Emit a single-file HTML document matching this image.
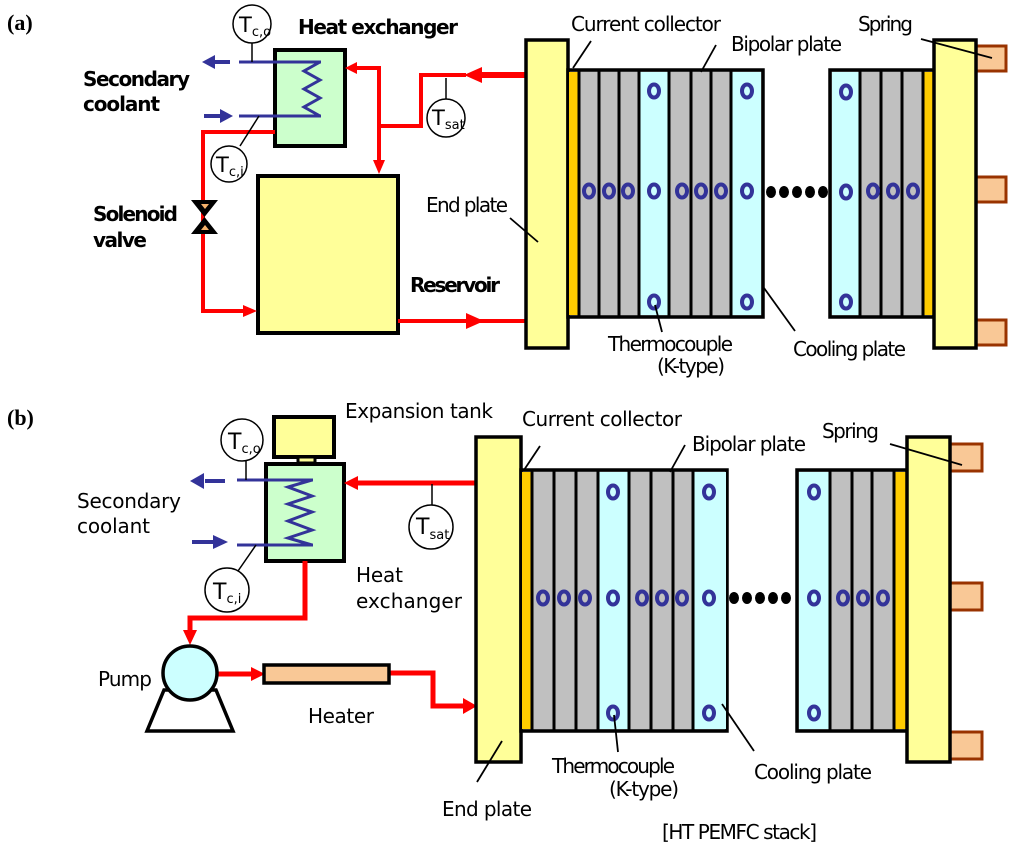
<!DOCTYPE html>
<html><head><meta charset="utf-8"><style>
html,body{margin:0;padding:0;background:#fff;}
svg{display:block;}
text{font-family:"DejaVu Sans","Liberation Sans",sans-serif;fill:#000;}
.b{font-weight:bold;font-size:20px;}
.r{font-size:20px;}
.s{font-family:"Liberation Serif",serif;font-weight:bold;font-size:22px;}
</style></head><body>
<svg width="1024" height="849" viewBox="0 0 1024 849" xmlns="http://www.w3.org/2000/svg">
<defs>
<g id="tc"><ellipse cx="0" cy="0" rx="5" ry="6.5" fill="none" stroke="#333399" stroke-width="4"/></g>
</defs>

<!-- ===== (a) ===== -->
<text x="7" y="30" class="s">(a)</text>
<rect x="275" y="50" width="70" height="96" fill="#ccffcc" stroke="#000" stroke-width="4"/>
<rect x="258" y="176" width="140" height="157" fill="#ffff99" stroke="#000" stroke-width="4"/>
<g stroke="#ff0000" fill="none">
<line x1="480" y1="75" x2="526" y2="75" stroke-width="6"/>
<polyline points="466,75 421,75 421,126 379,126" stroke-width="4"/>
<polyline points="379,126 379,68 354,68" stroke-width="4"/>
<line x1="379" y1="126" x2="379" y2="162" stroke-width="4"/>
<polyline points="275,132 203,132 203,311 244,311" stroke-width="4"/>
<line x1="398" y1="321" x2="526" y2="321" stroke-width="4"/>
</g>
<g fill="#ff0000">
<polygon points="464,75 482,67 482,83"/>
<polygon points="345,68 357,62 357,74"/>
<polygon points="379,174 373,160 385,160"/>
<polygon points="257,311 243,305 243,317"/>
<polygon points="484,321 466,313 466,329"/>
</g>
<polygon points="191,200 218,200 191,234 218,234" fill="#000"/>
<polygon points="201,204 209,204 205,209" fill="#f6b26b"/>
<polygon points="201,230 209,230 205,225" fill="#f6b26b"/>
<g stroke="#333399" stroke-width="3" fill="none">
<line x1="239" y1="62" x2="321" y2="62"/>
<line x1="239" y1="116" x2="321" y2="116"/>
<polyline points="320,62 304,71 320,80 304,89 320,98 304,107 320,116"/>
<line x1="214" y1="62" x2="230" y2="62" stroke-width="4"/>
<line x1="204" y1="116" x2="222" y2="116" stroke-width="4"/>
</g>
<polygon points="202,62 215,55 215,69" fill="#333399"/>
<polygon points="233,116 220,109 220,123" fill="#333399"/>
<g stroke="#000" stroke-width="1.5" fill="#fff">
<line x1="252" y1="43" x2="252" y2="62"/>
<circle cx="252" cy="24" r="19"/>
<line x1="259" y1="116" x2="240" y2="146"/>
<circle cx="229" cy="164" r="18"/>
<line x1="446" y1="78" x2="446" y2="99"/>
<circle cx="446" cy="118" r="19"/>
</g>
<text x="239" y="32" font-size="21">T<tspan font-size="13" dy="4">c,o</tspan></text>
<text x="216" y="172" font-size="21">T<tspan font-size="13" dy="4">c,i</tspan></text>
<text x="432" y="125" font-size="21">T<tspan font-size="13" dy="4">sat</tspan></text>
<text x="298" y="34" class="b" textLength="160">Heat exchanger</text>
<text x="83" y="86" class="b" textLength="107">Secondary</text>
<text x="83" y="111" class="b" textLength="77">coolant</text>
<text x="93" y="221" class="b" textLength="85">Solenoid</text>
<text x="93" y="247" class="b" textLength="54">valve</text>
<text x="410" y="292" class="b" textLength="90">Reservoir</text>
<text x="426" y="212" class="r" textLength="82">End plate</text>
<text x="571" y="31" class="r" textLength="150">Current collector</text>
<text x="731" y="51" class="r" textLength="111">Bipolar plate</text>
<text x="858" y="31" class="r" textLength="55">Spring</text>
<text x="608" y="351" class="r" textLength="125">Thermocouple</text>
<text x="657" y="373" class="r" textLength="68">(K-type)</text>
<text x="793" y="356" class="r" textLength="113">Cooling plate</text>
<rect x="526" y="40" width="42" height="308" fill="#ffff99" stroke="#000" stroke-width="3.5"/>
<rect x="568" y="70" width="195" height="247" fill="#c0c0c0" stroke="#000" stroke-width="3.5"/>
<rect x="569" y="72" width="9" height="243" fill="#ffcc00"/>
<rect x="639" y="72" width="30" height="243" fill="#ccffff"/>
<rect x="731" y="72" width="30" height="243" fill="#ccffff"/>
<g stroke="#000" stroke-width="3">
<line x1="579" y1="70" x2="579" y2="317"/><line x1="599" y1="70" x2="599" y2="317"/>
<line x1="619" y1="70" x2="619" y2="317"/><line x1="639" y1="70" x2="639" y2="317"/>
<line x1="669" y1="70" x2="669" y2="317"/><line x1="691" y1="70" x2="691" y2="317"/>
<line x1="711" y1="70" x2="711" y2="317"/><line x1="731" y1="70" x2="731" y2="317"/>
</g>
<rect x="830" y="70" width="104" height="247" fill="#c0c0c0" stroke="#000" stroke-width="3.5"/>
<rect x="832" y="72" width="28" height="243" fill="#ccffff"/>
<rect x="923" y="72" width="10" height="243" fill="#ffcc00"/>
<g stroke="#000" stroke-width="3">
<line x1="860" y1="70" x2="860" y2="317"/><line x1="881" y1="70" x2="881" y2="317"/>
<line x1="902" y1="70" x2="902" y2="317"/><line x1="923" y1="70" x2="923" y2="317"/>
</g>
<g fill="#f9c896" stroke="#993300" stroke-width="3">
<rect x="976" y="46" width="30" height="25"/><rect x="976" y="177" width="30" height="25"/><rect x="976" y="320" width="30" height="25"/>
</g>
<rect x="934" y="40" width="42" height="308" fill="#ffff99" stroke="#000" stroke-width="3.5"/>
<g>
<use href="#tc" x="654" y="91"/><use href="#tc" x="747" y="91"/><use href="#tc" x="846" y="92"/>
<use href="#tc" x="654" y="302"/><use href="#tc" x="747" y="302"/><use href="#tc" x="846" y="302"/>
<use href="#tc" x="589" y="191"/><use href="#tc" x="609" y="191"/><use href="#tc" x="628" y="191"/>
<use href="#tc" x="654" y="191"/><use href="#tc" x="682" y="191"/><use href="#tc" x="701" y="191"/>
<use href="#tc" x="721" y="191"/><use href="#tc" x="747" y="191"/><use href="#tc" x="846" y="192"/>
<use href="#tc" x="873" y="191"/><use href="#tc" x="893" y="191"/><use href="#tc" x="913" y="191"/>
</g>
<g fill="#000">
<ellipse cx="771" cy="192" rx="5" ry="6"/><ellipse cx="784" cy="192" rx="5" ry="6"/><ellipse cx="797" cy="192" rx="5" ry="6"/>
<ellipse cx="810" cy="192" rx="5" ry="6"/><ellipse cx="823" cy="192" rx="5" ry="6"/>
</g>
<g stroke="#000" stroke-width="1.8">
<line x1="591" y1="41" x2="573" y2="68"/>
<line x1="716" y1="45" x2="701" y2="72"/>
<line x1="921" y1="39" x2="992" y2="58"/>
<line x1="510" y1="218" x2="538" y2="242"/>
<line x1="655" y1="305" x2="662" y2="332"/>
<line x1="764" y1="288" x2="795" y2="331"/>
</g>

<!-- ===== (b) ===== -->
<text x="7" y="425" class="s">(b)</text>
<rect x="274" y="417" width="60" height="40" fill="#ffff99" stroke="#000" stroke-width="4"/>
<rect x="298" y="457" width="17" height="6" fill="#ffff99" stroke="#000" stroke-width="3"/>
<rect x="266" y="464" width="78" height="97" fill="#ccffcc" stroke="#000" stroke-width="4"/>
<g stroke="#ff0000" fill="none" stroke-width="5">
<line x1="358" y1="483" x2="477" y2="483"/>
<polyline points="305,561 305,618 190,618 190,632"/>
<line x1="218" y1="674" x2="254" y2="674"/>
<polyline points="389,673 433,673 433,706 463,706"/>
</g>
<g fill="#ff0000">
<polygon points="344,483 358,476 358,490"/>
<polygon points="190,645 183,630 197,630"/>
<polygon points="265,674 251,667 251,681"/>
<polygon points="477,706 463,698 463,714"/>
</g>
<rect x="264" y="665" width="125" height="18" fill="#f9c896" stroke="#000" stroke-width="3.5"/>
<polygon points="164,690 147,731 233,731 216,690" fill="#fff" stroke="#000" stroke-width="3.5"/>
<circle cx="190" cy="673" r="27" fill="#ccffff" stroke="#000" stroke-width="3.5"/>
<g stroke="#333399" stroke-width="3" fill="none">
<line x1="237" y1="480" x2="313" y2="480"/>
<line x1="237" y1="545" x2="313" y2="545"/>
<polyline points="312,480 288,487 312,496 288,504 312,512 288,521 312,530 288,538 312,545"/>
<line x1="205" y1="481" x2="225" y2="481" stroke-width="4"/>
<line x1="192" y1="542" x2="215" y2="542" stroke-width="4"/>
</g>
<polygon points="190,481 204,473 204,489" fill="#333399"/>
<polygon points="228,542 213,535 213,549" fill="#333399"/>
<g stroke="#000" stroke-width="1.5" fill="#fff">
<line x1="246" y1="461" x2="246" y2="480"/>
<circle cx="242" cy="440" r="21"/>
<line x1="256" y1="545" x2="238" y2="571"/>
<circle cx="227" cy="590" r="22"/>
<line x1="432" y1="484" x2="432" y2="506"/>
<circle cx="431" cy="527" r="22"/>
</g>
<text x="228" y="449" font-size="22">T<tspan font-size="13" dy="4">c,o</tspan></text>
<text x="213" y="599" font-size="22">T<tspan font-size="13" dy="4">c,i</tspan></text>
<text x="416" y="534" font-size="22">T<tspan font-size="13" dy="5">sat</tspan></text>
<text x="345" y="418" class="r" textLength="148">Expansion tank</text>
<text x="77" y="508" class="r" textLength="104">Secondary</text>
<text x="77" y="533" class="r" textLength="73">coolant</text>
<text x="356" y="582" class="r" textLength="47">Heat</text>
<text x="356" y="608" class="r" textLength="106">exchanger</text>
<text x="98" y="686" class="r" textLength="54">Pump</text>
<text x="308" y="723" class="r" textLength="66">Heater</text>
<text x="442" y="816" class="r" textLength="90">End plate</text>
<text x="522" y="426" class="r" textLength="160">Current collector</text>
<text x="692" y="451" class="r" textLength="114">Bipolar plate</text>
<text x="822" y="438" class="r" textLength="57">Spring</text>
<text x="552" y="773" class="r" textLength="123">Thermocouple</text>
<text x="609" y="796" class="r" textLength="70">(K-type)</text>
<text x="754" y="779" class="r" textLength="118">Cooling plate</text>
<text x="662" y="839" class="r" textLength="155">[HT PEMFC stack]</text>
<rect x="476" y="437" width="45" height="325" fill="#ffff99" stroke="#000" stroke-width="3.5"/>
<rect x="521" y="470" width="206" height="261" fill="#c0c0c0" stroke="#000" stroke-width="3.5"/>
<rect x="522" y="472" width="9" height="257" fill="#ffcc00"/>
<rect x="598" y="472" width="31" height="257" fill="#ccffff"/>
<rect x="693" y="472" width="33" height="257" fill="#ccffff"/>
<g stroke="#000" stroke-width="3">
<line x1="532" y1="470" x2="532" y2="731"/><line x1="554" y1="470" x2="554" y2="731"/>
<line x1="576" y1="470" x2="576" y2="731"/><line x1="598" y1="470" x2="598" y2="731"/>
<line x1="629" y1="470" x2="629" y2="731"/><line x1="651" y1="470" x2="651" y2="731"/>
<line x1="673" y1="470" x2="673" y2="731"/><line x1="693" y1="470" x2="693" y2="731"/>
</g>
<rect x="797" y="470" width="110" height="261" fill="#c0c0c0" stroke="#000" stroke-width="3.5"/>
<rect x="799" y="472" width="30" height="257" fill="#ccffff"/>
<rect x="895" y="472" width="11" height="257" fill="#ffcc00"/>
<g stroke="#000" stroke-width="3">
<line x1="830" y1="470" x2="830" y2="731"/><line x1="852" y1="470" x2="852" y2="731"/>
<line x1="872" y1="470" x2="872" y2="731"/><line x1="894" y1="470" x2="894" y2="731"/>
</g>
<g fill="#f9c896" stroke="#993300" stroke-width="3">
<rect x="950" y="444" width="32" height="27"/><rect x="950" y="583" width="32" height="27"/><rect x="950" y="732" width="32" height="27"/>
</g>
<rect x="907" y="437" width="43" height="325" fill="#ffff99" stroke="#000" stroke-width="3.5"/>
<g>
<use href="#tc" x="613" y="492"/><use href="#tc" x="709" y="492"/><use href="#tc" x="814" y="492"/>
<use href="#tc" x="613" y="713"/><use href="#tc" x="709" y="713"/><use href="#tc" x="814" y="713"/>
<use href="#tc" x="543" y="598"/><use href="#tc" x="564" y="598"/><use href="#tc" x="585" y="598"/>
<use href="#tc" x="613" y="598"/><use href="#tc" x="642" y="598"/><use href="#tc" x="662" y="598"/>
<use href="#tc" x="682" y="598"/><use href="#tc" x="709" y="598"/><use href="#tc" x="814" y="598"/>
<use href="#tc" x="843" y="598"/><use href="#tc" x="863" y="598"/><use href="#tc" x="883" y="598"/>
</g>
<g fill="#000">
<ellipse cx="734" cy="598" rx="5" ry="6"/><ellipse cx="747" cy="598" rx="5" ry="6"/><ellipse cx="760" cy="598" rx="5" ry="6"/>
<ellipse cx="773" cy="598" rx="5" ry="6"/><ellipse cx="786" cy="598" rx="5" ry="6"/>
</g>
<g stroke="#000" stroke-width="1.8">
<line x1="540" y1="446" x2="524" y2="470"/>
<line x1="685" y1="445" x2="670" y2="472"/>
<line x1="890" y1="444" x2="962" y2="465"/>
<line x1="502" y1="741" x2="477" y2="782"/>
<line x1="614" y1="715" x2="618" y2="752"/>
<line x1="722" y1="704" x2="754" y2="751"/>
</g>
</svg>
</body></html>
